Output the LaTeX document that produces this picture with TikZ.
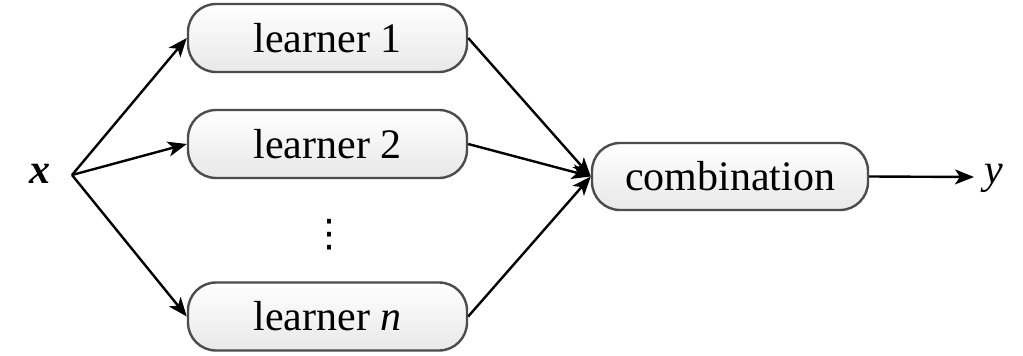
\documentclass[tikz,border=0pt]{standalone}
\usepackage{fontspec}
\setmainfont{Liberation Serif}
\newfontfamily\dvfont{DejaVu Sans}
\usetikzlibrary{arrows.meta,shadings}
\begin{document}
\begin{tikzpicture}[x=1pt,y=-1pt,
  box/.style={draw=black!70,line width=2.4pt,rounded corners=28pt,
    top color=white,bottom color=black!9,
    minimum width=279pt,minimum height=68pt,inner sep=0pt,
    font=\fontsize{42}{50}\selectfont},
  conn/.style={line width=2.4pt,-{Stealth[length=19pt,width=15pt,inset=5pt]}},
  lbl/.style={font=\fontsize{42}{50}\selectfont,inner sep=0pt}]
\useasboundingbox (0,0) rectangle (1023,356);
\node[box] (l1) at (327.5,38) {learner 1};
\node[box] (l2) at (327.5,144) {learner 2};
\node[box] (ln) at (327.5,316.5) {learner \textit{n}};
\node[box,minimum width=276pt,minimum height=67pt] (comb) at (730,176.5) {combination};
\node[inner sep=0pt,font=\dvfont\fontsize{38}{44}\selectfont] (dots) at (329,235) {⋮};
\node[lbl] (x) at (40,174) {\textbf{\textit{x}}};
\node[lbl] (y) at (994,178) {\textit{y}};
\coordinate (xs) at (72,175);
\coordinate (ye) at (974,177);
\draw[conn] (xs) -- (l1.west);
\draw[conn] (xs) -- (l2.west);
\draw[conn] (xs) -- (ln.west);
\draw[conn] (l1.east) -- (comb.west);
\draw[conn] (l2.east) -- (comb.west);
\draw[conn] (ln.east) -- (comb.west);
\draw[conn] (comb.east) -- (ye);
\end{tikzpicture}
\end{document}
